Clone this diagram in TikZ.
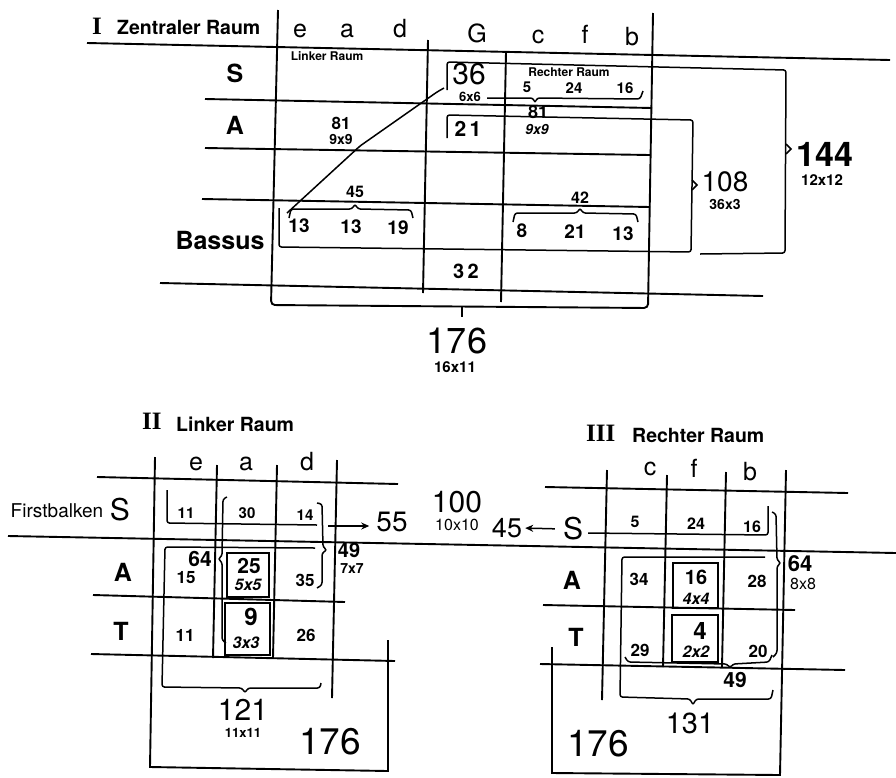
\documentclass[tikz,border=0pt]{standalone}
\usepackage{fontspec}
\setsansfont{TeX Gyre Heros}
\newfontfamily\romfont{Liberation Serif}[BoldFont={Liberation Serif Bold}]
\usetikzlibrary{arrows.meta}
\newcommand{\fsz}[1]{\fontsize{#1}{#1}\selectfont}
\tikzset{
  gridline/.style={line width=1.9pt},
  brk/.style={line width=1.5pt,rounded corners=2.5pt},
  tip/.style={line width=1.5pt},
  cellbox/.style={line width=2.8pt},
  arr/.style={line width=1.5pt,-{Stealth[length=8pt,width=7pt]}},
  lab/.style={inner sep=0pt},
  ttl/.style={lab,anchor=base west,font=\sffamily\bfseries\fsz{19.5}},
  roman/.style={lab,anchor=base west,font=\romfont\bfseries\fsz{25}},
  hd/.style={lab,anchor=base,font=\sffamily\fsz{25}},
  rowlab/.style={lab,font=\sffamily\bfseries\fsz{25}},
  num/.style={lab,font=\sffamily\bfseries\fsz{#1}},
  fac/.style={lab,font=\sffamily\bfseries\itshape\fsz{#1}},
  tot/.style={lab,font=\sffamily\fsz{#1}}
}

\begin{document}
\begin{tikzpicture}[x=1pt,y=-1pt]
  \useasboundingbox (0,0) rectangle (896,777);

  % I: Zentraler Raum
  \node[roman] (numI) at (92,34) {I};
  \node[ttl] (ttlI) at (117,34) {Zentraler Raum};
  \node[hd] (hdIe) at (300,37) {e};
  \node[hd] (hdIa) at (347,37) {a};
  \node[hd] (hdId) at (400,37) {d};
  \node[hd] (hdIG) at (477,42) {G};
  \node[hd] (hdIc) at (538,43) {c};
  \node[hd] (hdIf) at (585,43) {f};
  \node[hd] (hdIb) at (632,45) {b};
  \node[rowlab] (rIS) at (235,73) {S};
  \node[rowlab] (rIA) at (235,125) {A};
  \node[rowlab] (rIB) at (220,240) {Bassus};

  \draw[gridline] (87,43) -- (890,60);
  \draw[gridline] (205,99) -- (652,108);
  \draw[gridline] (205,148) -- (650,155);
  \draw[gridline] (202,199) -- (650,207);
  \draw[gridline] (160,283) -- (763,296);
  \draw[gridline] (428,40) -- (423,293);
  \draw[gridline] (506,52) -- (501,302);
  \draw[gridline,rounded corners=4pt] (278,10) -- (271,305) -- (648,308) -- (653,13);
  \draw[tip] (462,306) -- (462,317);

  \draw[brk] (447,90) -- (447,62) -- (786,70) -- (785,253) -- (700,254);
  \draw[tip] (786,144) -- (791,149) -- (786,154);
  \draw[brk] (447,138) -- (447,115) -- (693,120) -- (691,252) -- (279,247) -- (279,208);
  \draw[tip] (692,180) -- (697,185) -- (692,190);
  \draw[brk] (487,98) -- (533,98) -- (535,103) -- (537,98) -- (640,99) -- (643,91);
  \draw[brk] (287,213) -- (360,146) -- (437,92) -- (444,88);
  \draw[brk] (289,218) -- (291,209) -- (352,209) -- (355,204) -- (358,209) -- (411,210) -- (413,218);
  \draw[brk] (513,222) -- (515,213) -- (577,213) -- (580,208) -- (583,213) -- (636,214) -- (638,222);

  \node[num=12] (smLR) at (327,56) {Linker Raum};
  \node[num=12] (smRR) at (569,72) {Rechter Raum};
  \node[tot=30] (tI36) at (469,74) {36};
  \node[num=13] (fI36) at (470,97) {6x6};
  \node[num=15] (cIc5) at (527,87) {5};
  \node[num=15] (cIf24) at (574,88) {24};
  \node[num=15] (cIb16) at (625,88) {16};
  \node[num=18] (tIr81) at (538,112) {81};
  \node[fac=14] (fIr81) at (537,129) {9x9};
  \node[num=21] (cIG21) at (468,129) {2\,1};
  \node[num=17] (tIl81) at (341,123) {81};
  \node[num=14] (fIl81) at (341,139) {9x9};
  \node[num=16] (tI45) at (355,192) {45};
  \node[num=19] (cIe13) at (299,226) {13};
  \node[num=19] (cIa13) at (351,227) {13};
  \node[num=19] (cId19) at (398,228) {19};
  \node[num=16] (tI42) at (580,198) {42};
  \node[num=19] (cIc8) at (522,231) {8};
  \node[num=19] (cIf21) at (575,232) {21};
  \node[num=19] (cIb13) at (623,234) {13};
  \node[num=20] (cIG32) at (466,271) {3\,2};
  \node[tot=28] (tI108) at (725,182) {108};
  \node[num=14] (fI108) at (725,204) {36x3};
  \node[num=34] (tI144) at (825,154) {144};
  \node[num=15] (fI144) at (822,180) {12x12};
  \node[tot=36] (tI176) at (457,341) {176};
  \node[num=15] (fI176) at (455,367) {16x11};

  % II: Linker Raum
  \node[roman] (numII) at (142,429) {II};
  \node[ttl] (ttlII) at (176,431) {Linker Raum};
  \node[hd] (hdIIe) at (196,470) {e};
  \node[hd] (hdIIa) at (246,470) {a};
  \node[hd] (hdIId) at (307,470) {d};
  \node[tot=19] (fb) at (57,511) {Firstbalken};
  \node[tot=30] (rIIS) at (120,510) {S};
  \node[rowlab] (rIIA) at (123,572) {A};
  \node[rowlab] (rIIT) at (121,631) {T};

  \draw[gridline] (97,477) -- (398,484);
  \draw[gridline] (8,536) -- (896,553);
  \draw[gridline] (93,595) -- (345,602);
  \draw[gridline] (91,654) -- (395,661);
  \draw[gridline] (155,457) -- (150,767) -- (388,771) -- (388,640);
  \draw[gridline] (217,465) -- (213,658);
  \draw[gridline] (277,465) -- (273,658);
  \draw[gridline] (337,460) -- (332,698);

  \draw[brk] (167,490) -- (167,523) -- (317,525);
  \draw[brk] (227,497) -- (223,499) -- (222,556) -- (218,559) -- (222,562) -- (222,640) -- (226,643);
  \draw[brk] (317,503) -- (322,504) -- (323,547) -- (327,550) -- (322,553) -- (322,585) -- (317,588);
  \draw[brk] (315,548) -- (165,547) -- (162,687) -- (242,688) -- (245,693) -- (248,688) -- (320,688) -- (321,683);
  \draw[cellbox] (227,553) rectangle (269,597);
  \draw[cellbox] (225,603) rectangle (270,655);

  \node[num=15] (cIIe11) at (186,513) {11};
  \node[num=15] (cIIa30) at (247,513) {30};
  \node[num=15] (cIId14) at (305,515) {14};
  \node[num=17] (cIIe15) at (186,578) {15};
  \node[num=21] (cIIa25) at (249,566) {25};
  \node[fac=16] (fIIa25) at (248,585) {5x5};
  \node[num=17] (cIId35) at (305,580) {35};
  \node[num=17] (cIIe11t) at (185,635) {11};
  \node[num=24] (cIIa9) at (251,617) {9};
  \node[fac=16] (fIIa9) at (246,643) {3x3};
  \node[num=17] (cIId26) at (306,635) {26};
  \node[num=21] (tII64) at (200,559) {64};
  \node[num=20] (tII49) at (349,550) {49};
  \node[num=14] (fII49) at (352,569) {7x7};
  \node[tot=28] (tII55) at (392,522) {55};
  \node[tot=30] (t100) at (457,502) {100};
  \node[tot=16] (f100) at (457,525) {10x10};
  \node[tot=30] (tII121) at (243,710) {121};
  \node[num=13] (fII121) at (243,733) {11x11};
  \node[tot=37] (tII176) at (330,742) {176};
  \coordinate (a55) at (328,526);
  \draw[arr,shorten >=7pt] (a55) -- (tII55.west |- a55);

  % III: Rechter Raum
  \node[roman] (numIII) at (586,441) {III};
  \node[ttl] (ttlIII) at (632,442) {Rechter Raum};
  \node[hd] (hdIIIc) at (650,475) {c};
  \node[hd] (hdIIIf) at (694,477) {f};
  \node[hd] (hdIIIb) at (750,480) {b};
  \node[tot=30] (rIIIS) at (573,529) {S};
  \node[rowlab] (rIIIA) at (572,580) {A};
  \node[rowlab] (rIIIT) at (576,637) {T};
  \node[tot=27] (tIII45) at (507,528) {45};
  \draw[arr,shorten <=8pt,shorten >=3pt] (rIIIS.west) -- (tIII45.east);

  \draw[gridline] (545,487) -- (848,493);
  \draw[gridline] (543,605) -- (795,610);
  \draw[gridline] (540,664) -- (845,670);
  \draw[gridline] (607,470) -- (602,700);
  \draw[gridline] (667,475) -- (663,667);
  \draw[gridline] (726,472) -- (722,667);
  \draw[gridline] (786,470) -- (780,775) -- (552,773) -- (552,647);

  \draw[brk] (588,533) -- (768,535) -- (768,506);
  \draw[brk] (772,512) -- (776,514) -- (777,560) -- (781,563) -- (777,566) -- (777,653) -- (773,657);
  \draw[brk] (765,557) -- (622,557) -- (620,697) -- (690,699) -- (693,705) -- (696,699) -- (771,699) -- (773,690);
  \draw[brk] (625,657) -- (628,662) -- (727,664) -- (730,668) -- (733,664) -- (769,662) -- (772,655);
  \draw[cellbox] (673,563) rectangle (718,608);
  \draw[cellbox] (672,615) rectangle (718,662);

  \node[num=16] (cIIIc5) at (635,522) {5};
  \node[num=16] (cIIIf24) at (696,524) {24};
  \node[num=16] (cIIIb16) at (752,527) {16};
  \node[num=17] (cIIIc34) at (639,579) {34};
  \node[num=20] (cIIIf16) at (696,577) {16};
  \node[fac=16] (fIIIf16) at (696,599) {4x4};
  \node[num=17] (cIIIb28) at (757,581) {28};
  \node[num=17] (cIIIc29) at (640,650) {29};
  \node[num=24] (cIIIf4) at (700,631) {4};
  \node[fac=16] (fIIIf4) at (696,652) {2x2};
  \node[num=17] (cIIIb20) at (758,651) {20};
  \node[num=21] (tIII49) at (735,680) {49};
  \node[num=22] (tIII64) at (800,564) {64};
  \node[tot=16] (fIII64) at (803,584) {8x8};
  \node[tot=29] (tIII131) at (690,723) {131};
  \node[tot=37] (tIII176) at (598,744) {176};
\end{tikzpicture}
\end{document}
